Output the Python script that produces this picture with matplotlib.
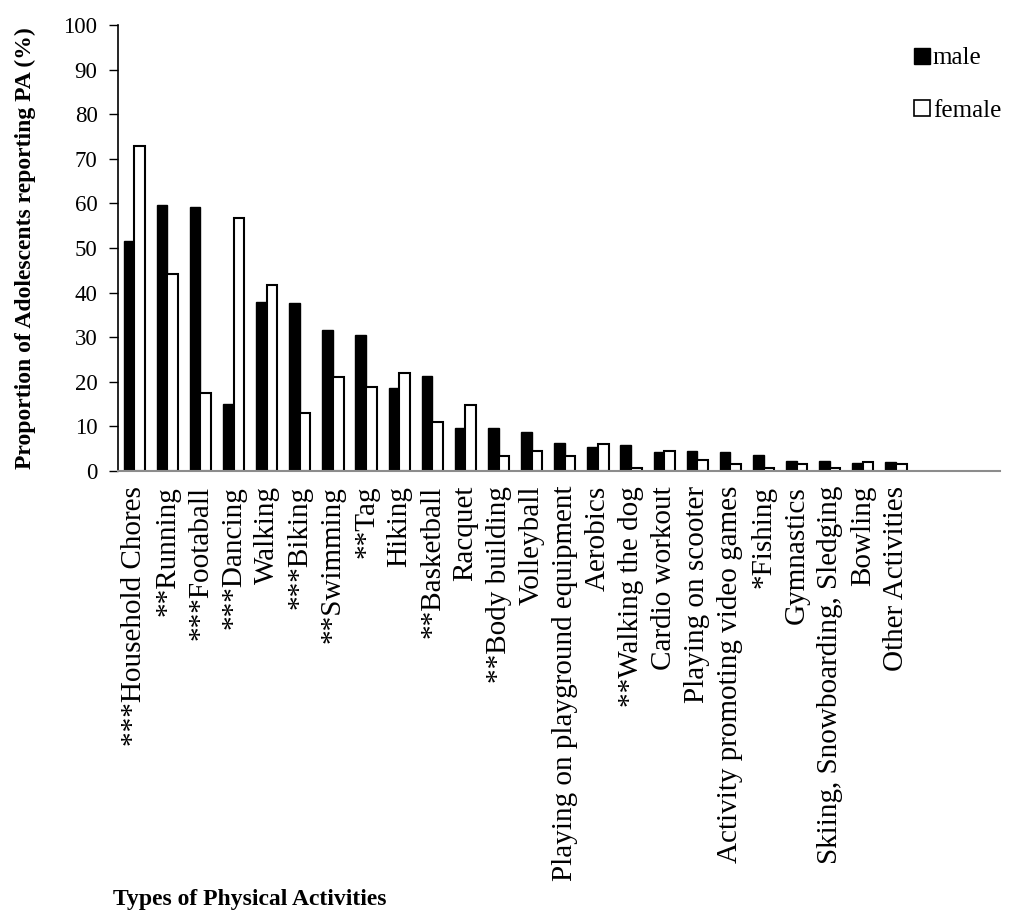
import matplotlib
matplotlib.use("Agg")
import matplotlib.pyplot as plt
import numpy as np
from matplotlib.lines import Line2D

categories = ["***Household Chores", "**Running", "***Footaball", "***Dancing", "Walking",
              "***Biking", "**Swimming", "**Tag", "Hiking", "**Basketball", "Racquet",
              "**Body building", "Volleyball", "Playing on playground equipment", "Aerobics",
              "**Walking the dog", "Cardio workout", "Playing on scooter",
              "Activity promoting video games", "*Fishing", "Gymnastics",
              "Skiing, Snowboarding, Sledging", "Bowling", "Other Activities"]
male = [51.6, 59.7, 59.1, 15.0, 37.9, 37.6, 31.7, 30.4, 18.6, 21.3, 9.5,
        9.5, 8.6, 6.3, 5.4, 5.8, 4.1, 4.5, 4.1, 3.6, 2.2, 2.2, 1.8, 1.9]
female = [72.9, 44.1, 17.4, 56.8, 41.8, 12.9, 21.1, 18.9, 21.9, 11.0, 14.7,
          3.4, 4.5, 3.4, 6.0, 0.7, 4.5, 2.5, 1.5, 0.7, 1.5, 0.7, 1.9, 1.6]
yticks = list(range(0, 101, 10))

plt.rcParams['font.family'] = ['Liberation Serif', 'DejaVu Serif']

fig = plt.figure(figsize=(10.26, 9.17), dpi=100)
ax = fig.add_axes([0.1147, 0.4867, 0.975 - 0.1147, 0.9724 - 0.4867])

x = np.arange(len(categories))
w = 0.32
ax.bar(x - w / 2, male, width=w, color='black', edgecolor='black', linewidth=1.0)
ax.bar(x + w / 2, female, width=w, color='white', edgecolor='black', linewidth=1.5)

ax.set_xlim(-0.5, 26.15)
ax.set_ylim(0, 100)
ax.set_yticks(yticks)
ax.tick_params(axis='y', direction='out', length=6.5, width=1.0, labelsize=16.5, pad=8)
ax.tick_params(axis='x', length=0, labelsize=21, pad=11)
ax.set_xticks(x)
ax.set_xticklabels(categories, rotation=90, va='top', ha='center')

for s in ['top', 'right']:
    ax.spines[s].set_visible(False)
ax.spines['left'].set_color('black')
ax.spines['left'].set_linewidth(1.2)
ax.spines['bottom'].set_color('#8c8c8c')
ax.spines['bottom'].set_linewidth(1.5)

ax.set_ylabel("Proportion of Adolescents reporting PA (%)", fontsize=17,
              fontweight='bold', labelpad=20)
fig.text(250 / 1026, 1 - 899 / 917, "Types of Physical Activities", fontsize=17,
         fontweight='bold', ha='center', va='center')

handles = [Line2D([], [], marker='s', linestyle='none', markersize=11,
                  markerfacecolor='black', markeredgecolor='black'),
           Line2D([], [], marker='s', linestyle='none', markersize=11,
                  markerfacecolor='white', markeredgecolor='black', markeredgewidth=1.2)]
ax.legend(handles, ["male", "female"], loc='upper right', bbox_to_anchor=(1.018, 0.985),
          frameon=False, fontsize=18, handlelength=0.6, handletextpad=0.15,
          labelspacing=1.2, borderaxespad=0.2)

fig.savefig("out.png", dpi=100)
